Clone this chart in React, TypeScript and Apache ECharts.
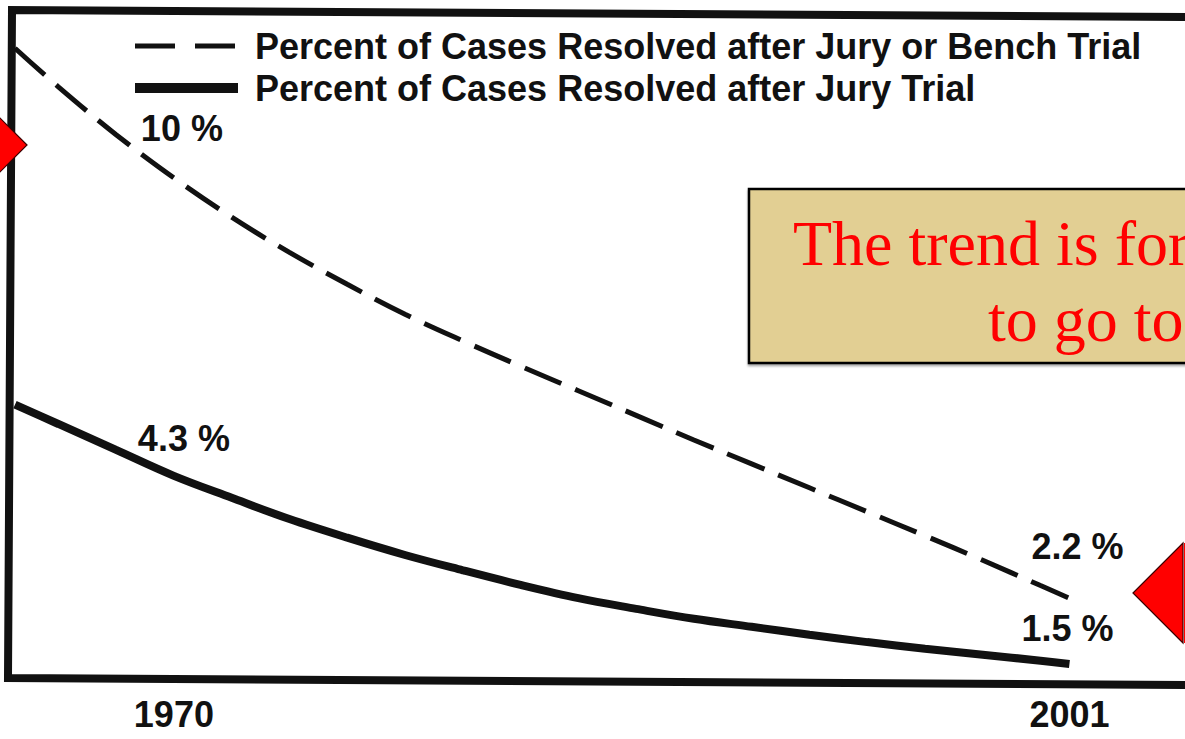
import React, { useEffect, useRef } from "react";
import * as echarts from "echarts";

// ---- data ----
const YEARS = [1964.5, 1966, 1968, 1970, 1972, 1974, 1976, 1978, 1980, 1982, 1984, 1986, 1988, 1990, 1992, 1994, 1996, 1998, 2000, 2001];
// relative curve heights (schematic chart, 0..100 of plot height)
const BENCH_OR_JURY = [95.0, 89.2, 82.0, 75.5, 69.6, 64.3, 59.5, 55.0, 51.0, 47.2, 43.5, 39.8, 36.1, 32.5, 28.9, 25.3, 21.7, 18.0, 14.2, 12.3];
const JURY = [41.4, 38.5, 34.6, 30.7, 27.4, 24.2, 21.4, 18.8, 16.5, 14.3, 12.3, 10.7, 9.2, 8.0, 6.8, 5.7, 4.7, 3.8, 2.9, 2.4];
const SERIES_NAMES = [
  "Percent of Cases Resolved after Jury or Bench Trial",
  "Percent of Cases Resolved after Jury Trial",
];
const ANNOTATION_YEARS = [1970, 2001];
const BENCH_OR_JURY_LABELS = ["10 %", "2.2 %"];
const JURY_LABELS = ["4.3 %", "1.5 %"];
const X_TICKS = [1970, 2001];
const CALLOUT_LINES = ["The trend is for", "to go to"];

const INK = "#111111";
const SANS = "'Liberation Sans', Arial, sans-serif";

export default function App() {
  const ref = useRef<HTMLDivElement>(null);

  useEffect(() => {
    if (!ref.current) return;
    const chart = echarts.init(ref.current, undefined, { renderer: "svg" });

    const pts = (vals: number[]) => YEARS.map((y, i) => [y, vals[i]]);
    const at = (vals: number[], yr: number) => vals[YEARS.indexOf(yr)];

    const dashedOffsets = [[8, -31], [8, -34]];
    const solidOffsets = [[10, -19], [-2, -17]];

    const labelStyle = {
      show: true,
      position: "top",
      distance: 0,
      fontFamily: SANS,
      fontWeight: "bold",
      fontSize: 36,
      lineHeight: 36,
      color: INK,
      opacity: 1,
      textBorderWidth: 0,
    };

    const annot = (vals: number[], labels: string[], offsets: number[][]) =>
      ANNOTATION_YEARS.map((yr, i) => ({
        value: [yr, at(vals, yr)],
        label: { ...labelStyle, formatter: labels[i], offset: offsets[i] },
      }));

    const labelSeries = (name: string, vals: number[], labels: string[], offsets: number[][]) => ({
      name,
      type: "scatter",
      symbol: "circle",
      symbolSize: 0.1,
      itemStyle: { color: INK, opacity: 1 },
      emphasis: { disabled: true },
      silent: true,
      data: annot(vals, labels, offsets),
      z: 4,
    });

    chart.setOption({
      animation: false,
      backgroundColor: "#ffffff",
      grid: { left: 15, right: 0, top: 15, bottom: 59 },
      xAxis: {
        type: "value",
        min: 1964.5,
        max: 2005,
        axisLine: { show: false },
        axisTick: { show: false },
        splitLine: { show: false },
        axisLabel: {
          customValues: X_TICKS,
          formatter: (v: number) => String(v),
          fontFamily: SANS,
          fontWeight: "bold",
          fontSize: 36,
          color: INK,
          margin: 16,
        },
      },
      yAxis: { type: "value", min: 0, max: 100, show: false },
      legend: {
        orient: "vertical",
        left: 130,
        top: 25,
        padding: 0,
        itemGap: 0,
        itemWidth: 103,
        itemHeight: 12,
        selectedMode: false,
        itemStyle: { opacity: 0 },
        textStyle: {
          fontFamily: SANS,
          fontWeight: "bold",
          fontSize: 36,
          lineHeight: 42,
          color: INK,
          padding: [0, 0, 0, 12],
        },
        data: [
          { name: SERIES_NAMES[0], lineStyle: { type: [40, 20], width: 5, color: INK } },
          { name: SERIES_NAMES[1], lineStyle: { type: "solid", width: 10, color: INK } },
        ],
      },
      series: [
        {
          name: SERIES_NAMES[0],
          type: "line",
          data: pts(BENCH_OR_JURY),
          smooth: 0.35,
          showSymbol: false,
          symbol: "none",
          lineStyle: { color: INK, width: 5, type: [40, 15] },
          itemStyle: { color: INK },
          z: 3,
        },
        {
          name: SERIES_NAMES[1],
          type: "line",
          data: pts(JURY),
          smooth: 0.35,
          showSymbol: false,
          symbol: "none",
          lineStyle: { color: INK, width: 8, type: "solid", cap: "butt" },
          itemStyle: { color: INK },
          z: 3,
        },
        labelSeries("labels-a", BENCH_OR_JURY, BENCH_OR_JURY_LABELS, dashedOffsets),
        labelSeries("labels-b", JURY, JURY_LABELS, solidOffsets),
      ],
      graphic: [
        {
          type: "polyline",
          z: 10,
          shape: { points: [[1195, 17], [12, 10], [8, 678], [1195, 685]] },
          style: { stroke: INK, lineWidth: 8, fill: null, lineJoin: "miter" },
        },
        {
          type: "rect",
          z: 20,
          shape: { x: 749, y: 189, width: 480, height: 174 },
          style: { fill: "#E2CF93", stroke: "#000000", lineWidth: 2.5, shadowColor: "rgba(0,0,0,0.35)", shadowOffsetY: 2, shadowBlur: 2 },
        },
        {
          type: "text",
          z: 21,
          x: 793,
          y: 243,
          style: {
            text: CALLOUT_LINES[0],
            font: "64px 'Liberation Serif', 'Times New Roman', serif",
            fill: "#FF0000",
            verticalAlign: "middle",
            align: "left",
          },
        },
        {
          type: "text",
          z: 21,
          x: 988,
          y: 319,
          style: {
            text: CALLOUT_LINES[1],
            font: "64px 'Liberation Serif', 'Times New Roman', serif",
            fill: "#FF0000",
            verticalAlign: "middle",
            align: "left",
          },
        },
        {
          type: "polygon",
          z: 22,
          shape: { points: [[27, 145], [-20, 98], [-20, 192]] },
          style: { fill: "#FF0000", stroke: "#3a0000", lineWidth: 1.2 },
        },
        {
          type: "polygon",
          z: 22,
          shape: { points: [[1133, 593], [1183, 543], [1183, 643]] },
          style: { fill: "#FF0000", stroke: "#3a0000", lineWidth: 1.2 },
        },
        {
          type: "rect",
          z: 22,
          shape: { x: 1184, y: 543, width: 10, height: 100 },
          style: { fill: "#FF0000" },
        },
      ],
    });

    return () => chart.dispose();
  }, []);

  return (
    <div
      ref={ref}
      style={{ position: "fixed", left: 0, top: 0, width: 1185, height: 739, background: "#fff" }}
    />
  );
}
